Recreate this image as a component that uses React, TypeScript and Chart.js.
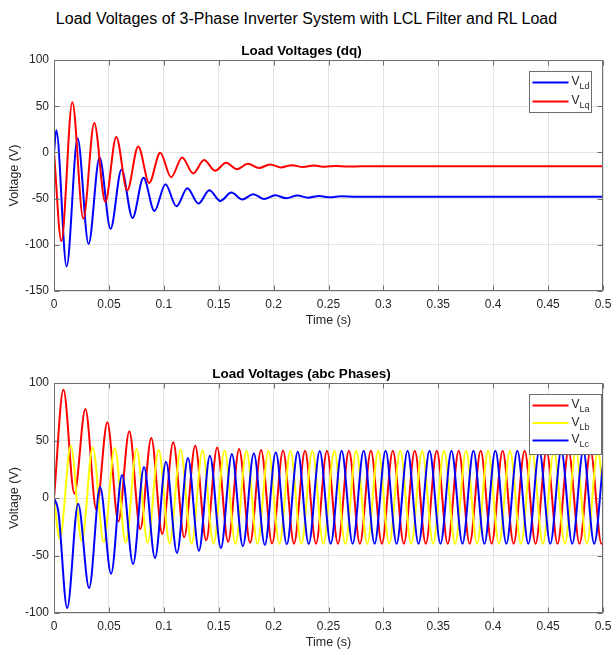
import React, { useEffect, useRef } from 'react';
import { Chart, registerables } from 'chart.js';

Chart.register(...registerables);

const FONT = '"Liberation Sans", Arial, Helvetica, sans-serif';
const GRID = '#e2e2e2';
const AXIS = '#6e6e6e';
const TICK = '#262626';

const mainTitle = 'Load Voltages of 3-Phase Inverter System with LCL Filter and RL Load';
const dqTitle = 'Load Voltages (dq)';
const abcTitle = 'Load Voltages (abc Phases)';
const xTitle = 'Time (s)';
const yTitle = 'Voltage (V)';

const xTickValues = [0, 0.05, 0.1, 0.15, 0.2, 0.25, 0.3, 0.35, 0.4, 0.45, 0.5];
const xTickLabels = ['0', '0.05', '0.1', '0.15', '0.2', '0.25', '0.3', '0.35', '0.4', '0.45', '0.5'];
const dqYTickValues = [-150, -100, -50, 0, 50, 100];
const dqYTickLabels = ['-150', '-100', '-50', '0', '50', '100'];
const abcYTickValues = [-100, -50, 0, 50, 100];
const abcYTickLabels = ['-100', '-50', '0', '50', '100'];

// ---- dq frame (extrema) ----
const vLdTime = [
  0, 0.0021, 0.0115, 0.0215, 0.0315, 0.0415, 0.0515, 0.0615, 0.0715, 0.0815,
  0.0915, 0.1015, 0.1115, 0.1215, 0.1315, 0.1415, 0.1515, 0.1615, 0.1715, 0.1815,
  0.1915, 0.2015, 0.2115, 0.2215, 0.2315, 0.2415, 0.2515, 0.2615, 0.275, 0.3,
  0.35, 0.4, 0.45, 0.5,
];
const vLd = [
  0, 24, -123.5, 15, -99, -5.4, -82.6, -18.5, -71, -27.5,
  -63.4, -34.4, -58.3, -38.8, -55.4, -41, -52.5, -43.5, -51, -45.3,
  -50.4, -46.4, -49.6, -46.7, -49, -47.2, -48.6, -47.5, -48, -48,
  -48, -48, -48, -48,
];
const vLqTime = [
  0, 0.0067, 0.0167, 0.0267, 0.0367, 0.0467, 0.0567, 0.0667, 0.0767, 0.0867,
  0.0967, 0.1067, 0.1167, 0.1267, 0.1367, 0.1467, 0.1567, 0.1667, 0.1767, 0.1867,
  0.1967, 0.2067, 0.2167, 0.2267, 0.2367, 0.2467, 0.2567, 0.2667, 0.28, 0.3,
  0.35, 0.4, 0.45, 0.5,
];
const vLq = [
  0, -96, 54.3, -71.7, 31.9, -53.6, 16.7, -41, 6.5, -33,
  -0.4, -26.8, -5.4, -22.8, -8.3, -19.9, -11.2, -18.1, -12.3, -17,
  -13, -16.3, -13.8, -15.9, -14.3, -15.6, -14.6, -15.3, -15, -15,
  -15, -15, -15, -15,
];

// ---- abc phases (extrema) ----
const vLaTime = [
  0, 0.0086, 0.0186, 0.0286, 0.0386, 0.0486, 0.0586, 0.0686, 0.0786, 0.0886,
  0.0986, 0.1086, 0.1186, 0.1286, 0.1386, 0.1486, 0.1586, 0.1686, 0.1786, 0.1886,
  0.1986, 0.2086, 0.2186, 0.2286, 0.2386, 0.2486, 0.2586, 0.2686, 0.2786, 0.2886,
  0.2986, 0.3086, 0.3186, 0.3286, 0.3386, 0.3486, 0.3586, 0.3686, 0.3786, 0.3886,
  0.3986, 0.4086, 0.4186, 0.4286, 0.4386, 0.4486, 0.4586, 0.4686, 0.4786, 0.4886,
  0.4986, 0.5,
];
const vLa = [
  0, 94.2, 3.8, 77.4, -10, 65.8, -20.3, 58, -27, 52.2,
  -31.3, 48.4, -34.2, 45.5, -36.8, 44, -38, 42.6, -39, 41.7,
  -39.5, 41.3, -39.7, 41.1, -39.8, 41.1, -39.8, 41.1, -39.8, 41.1,
  -39.8, 41.1, -39.8, 41.1, -39.8, 41.1, -39.8, 41.1, -39.8, 41.1,
  -39.8, 41.1, -39.8, 41.1, -39.8, 41.1, -39.8, 41.1, -39.8, 41.1,
  -39.8, -39,
];
const vLbTime = [
  0, 0.0053, 0.0153, 0.0253, 0.0353, 0.0453, 0.0553, 0.0653, 0.0753, 0.0853,
  0.0953, 0.1053, 0.1153, 0.1253, 0.1353, 0.1453, 0.1553, 0.1653, 0.1753, 0.1853,
  0.1953, 0.2053, 0.2153, 0.2253, 0.2353, 0.2453, 0.2553, 0.2653, 0.2753, 0.2853,
  0.2953, 0.3053, 0.3153, 0.3253, 0.3353, 0.3453, 0.3553, 0.3653, 0.3753, 0.3853,
  0.3953, 0.4053, 0.4153, 0.4253, 0.4353, 0.4453, 0.4553, 0.4653, 0.4753, 0.4853,
  0.4953, 0.5,
];
const vLb = [
  0, -36, 45.5, -37.7, 44, -38.3, 43.5, -38.6, 42.6, -39,
  42, -39.4, 42, -39.7, 41.6, -39.8, 41.3, -39.8, 41.1, -39.8,
  41.1, -39.8, 41.1, -39.8, 41.1, -39.8, 41.1, -39.8, 41.1, -39.8,
  41.1, -39.8, 41.1, -39.8, 41.1, -39.8, 41.1, -39.8, 41.1, -39.8,
  41.1, -39.8, 41.1, -39.8, 41.1, -39.8, 41.1, -39.8, 41.1, -39.8,
  41.1, 8,
];
const vLcTime = [
  0, 0.004, 0.012, 0.022, 0.032, 0.042, 0.052, 0.062, 0.072, 0.082,
  0.092, 0.102, 0.112, 0.122, 0.132, 0.142, 0.152, 0.162, 0.172, 0.182,
  0.192, 0.202, 0.212, 0.222, 0.232, 0.242, 0.252, 0.262, 0.272, 0.282,
  0.292, 0.302, 0.312, 0.322, 0.332, 0.342, 0.352, 0.362, 0.372, 0.382,
  0.392, 0.402, 0.412, 0.422, 0.432, 0.442, 0.452, 0.462, 0.472, 0.482,
  0.492, 0.5,
];
const vLc = [
  0, -12, -95.7, -4.9, -78.3, 9.6, -65.8, 20, -57.4, 27,
  -52.2, 31.6, -47.8, 34.8, -45.8, 36.8, -43.5, 38.3, -42, 39,
  -40.9, 39.7, -40.3, 40.3, -40, 40.8, -39.8, 41.1, -39.8, 41.1,
  -39.8, 41.1, -39.8, 41.1, -39.8, 41.1, -39.8, 41.1, -39.8, 41.1,
  -39.8, 41.1, -39.8, 41.1, -39.8, 41.1, -39.8, 41.1, -39.8, 41.1,
  -39.8, 30,
];

const pts = (t: number[], v: number[]) => t.map((x, i) => ({ x, y: v[i] }));

const boxPlugin = {
  id: 'matlabBox',
  afterDatasetsDraw(chart: any) {
    const { ctx, chartArea: a, scales } = chart;
    const L = Math.round(a.left) + 0.5;
    const R = Math.round(a.right) - 0.5;
    const T = Math.round(a.top) + 0.5;
    const B = Math.round(a.bottom) - 0.5;
    ctx.save();
    ctx.strokeStyle = AXIS;
    ctx.lineWidth = 1;
    ctx.beginPath();
    ctx.rect(L, T, R - L, B - T);
    const tl = 5;
    scales.x.ticks.forEach((t: any) => {
      const px = Math.round(scales.x.getPixelForValue(t.value)) + 0.5;
      ctx.moveTo(px, B); ctx.lineTo(px, B - tl);
      ctx.moveTo(px, T); ctx.lineTo(px, T + tl);
    });
    scales.y.ticks.forEach((t: any) => {
      const py = Math.round(scales.y.getPixelForValue(t.value)) + 0.5;
      ctx.moveTo(L, py); ctx.lineTo(L + tl, py);
      ctx.moveTo(R, py); ctx.lineTo(R - tl, py);
    });
    ctx.stroke();
    ctx.restore();
  },
};

const legendPlugin = {
  id: 'matlabLegend',
  afterDraw(chart: any, _args: any, o: any) {
    const { ctx, chartArea: a } = chart;
    const x0 = Math.round(a.right - o.right - o.width) + 0.5;
    const y0 = Math.round(a.top + o.top) + 0.5;
    ctx.save();
    ctx.fillStyle = '#ffffff';
    ctx.fillRect(x0, y0, o.width, o.height);
    ctx.strokeStyle = AXIS;
    ctx.lineWidth = 1;
    ctx.strokeRect(x0, y0, o.width, o.height);
    chart.data.datasets.forEach((ds: any, i: number) => {
      const y = y0 + o.firstRow + i * o.rowH;
      ctx.strokeStyle = ds.borderColor;
      ctx.lineWidth = 2;
      ctx.beginPath();
      ctx.moveTo(x0 + 3, y);
      ctx.lineTo(x0 + 39, y);
      ctx.stroke();
      const [main, sub] = String(ds.label).split('_');
      ctx.fillStyle = TICK;
      ctx.textBaseline = 'middle';
      ctx.textAlign = 'left';
      ctx.font = `12px ${FONT}`;
      ctx.fillText(main, x0 + 42, y - 0.5);
      const w = ctx.measureText(main).width;
      ctx.font = `9px ${FONT}`;
      ctx.fillText(sub || '', x0 + 42 + w, y + 4.5);
    });
    ctx.restore();
  },
};

function makeConfig(opts: {
  datasets: any[];
  yMin: number;
  yMax: number;
  yTicks: number[];
  yLabels: string[];
  title: string;
  legend: any;
}): any {
  return {
    type: 'line',
    data: { datasets: opts.datasets },
    plugins: [boxPlugin, legendPlugin],
    options: {
      responsive: false,
      maintainAspectRatio: false,
      animation: false,
      events: [],
      layout: { padding: { left: 0, right: 10, top: 0, bottom: 0 } },
      elements: { point: { radius: 0 } },
      plugins: {
        legend: { display: false },
        tooltip: { enabled: false },
        title: {
          display: true,
          text: opts.title,
          color: '#000000',
          font: { family: FONT, size: 13.5, weight: 'bold' },
          padding: { top: 7, bottom: 0.8 },
        },
        matlabLegend: opts.legend,
      },
      scales: {
        x: {
          type: 'linear',
          min: 0,
          max: 0.5,
          offset: false,
          afterBuildTicks: (s: any) => {
            s.ticks = xTickValues.map((v) => ({ value: v }));
          },
          afterFit: (s: any) => {
            s.height = 38;
            s.paddingLeft = 0;
            s.paddingRight = 0;
          },
          grid: { color: GRID, drawTicks: false, lineWidth: 1 },
          border: { display: false },
          ticks: {
            color: TICK,
            font: { family: FONT, size: 12 },
            padding: 6,
            maxRotation: 0,
            autoSkip: false,
            callback: (_v: any, i: number) => xTickLabels[i],
          },
          title: {
            display: true,
            text: xTitle,
            color: TICK,
            font: { family: FONT, size: 12.5 },
            padding: { top: 0, bottom: 1 },
          },
        },
        y: {
          type: 'linear',
          min: opts.yMin,
          max: opts.yMax,
          afterBuildTicks: (s: any) => {
            s.ticks = opts.yTicks.map((v) => ({ value: v }));
          },
          afterFit: (s: any) => {
            s.width = 54;
          },
          grid: { color: GRID, drawTicks: false, lineWidth: 1 },
          border: { display: false },
          ticks: {
            color: TICK,
            font: { family: FONT, size: 12 },
            padding: 5,
            autoSkip: false,
            callback: (_v: any, i: number) => opts.yLabels[i],
          },
          title: {
            display: true,
            text: yTitle,
            color: TICK,
            font: { family: FONT, size: 12.5 },
            padding: { top: 7.5, bottom: 0 },
          },
        },
      },
    },
  };
}

const lineDs = (label: string, color: string, t: number[], v: number[], order: number) => ({
  label,
  data: pts(t, v),
  borderColor: color,
  backgroundColor: color,
  borderWidth: 2,
  pointRadius: 0,
  fill: false,
  cubicInterpolationMode: 'monotone',
  order,
});

function PlotCanvas(props: { top: number; height: number; build: () => any }) {
  const ref = useRef<HTMLCanvasElement | null>(null);
  useEffect(() => {
    if (!ref.current) return;
    const chart = new Chart(ref.current, props.build());
    return () => chart.destroy();
  }, []);
  return (
    <canvas
      ref={ref}
      width={613}
      height={props.height}
      style={{ position: 'absolute', left: 0, top: props.top, width: 613, height: props.height }}
    />
  );
}

export default function App() {
  const buildDq = () =>
    makeConfig({
      datasets: [
        lineDs('V_Ld', '#0000ff', vLdTime, vLd, 2),
        lineDs('V_Lq', '#ff0000', vLqTime, vLq, 1),
      ],
      yMin: -150,
      yMax: 100,
      yTicks: dqYTickValues,
      yLabels: dqYTickLabels,
      title: dqTitle,
      legend: { right: 12, top: 11, width: 62, height: 41, firstRow: 11, rowH: 19 },
    });
  const buildAbc = () =>
    makeConfig({
      datasets: [
        lineDs('V_La', '#ff0000', vLaTime, vLa, 3),
        lineDs('V_Lb', '#ffff00', vLbTime, vLb, 2),
        lineDs('V_Lc', '#0000ff', vLcTime, vLc, 1),
      ],
      yMin: -100,
      yMax: 100,
      yTicks: abcYTickValues,
      yLabels: abcYTickLabels,
      title: abcTitle,
      legend: { right: 2, top: 11, width: 72, height: 60, firstRow: 11, rowH: 17.5 },
    });
  return (
    <div
      style={{
        position: 'fixed',
        left: 0,
        top: 0,
        width: 613,
        height: 651,
        background: '#ffffff',
        overflow: 'hidden',
      }}
    >
      <div
        style={{
          position: 'absolute',
          left: 0,
          top: 8,
          width: 613,
          height: 22,
          lineHeight: '22px',
          textAlign: 'center',
          fontFamily: FONT,
          fontSize: 16,
          color: '#000000',
          whiteSpace: 'nowrap',
        }}
      >
        {mainTitle}
      </div>
      <PlotCanvas top={36} height={293} build={buildDq} />
      <PlotCanvas top={359} height={292} build={buildAbc} />
    </div>
  );
}
